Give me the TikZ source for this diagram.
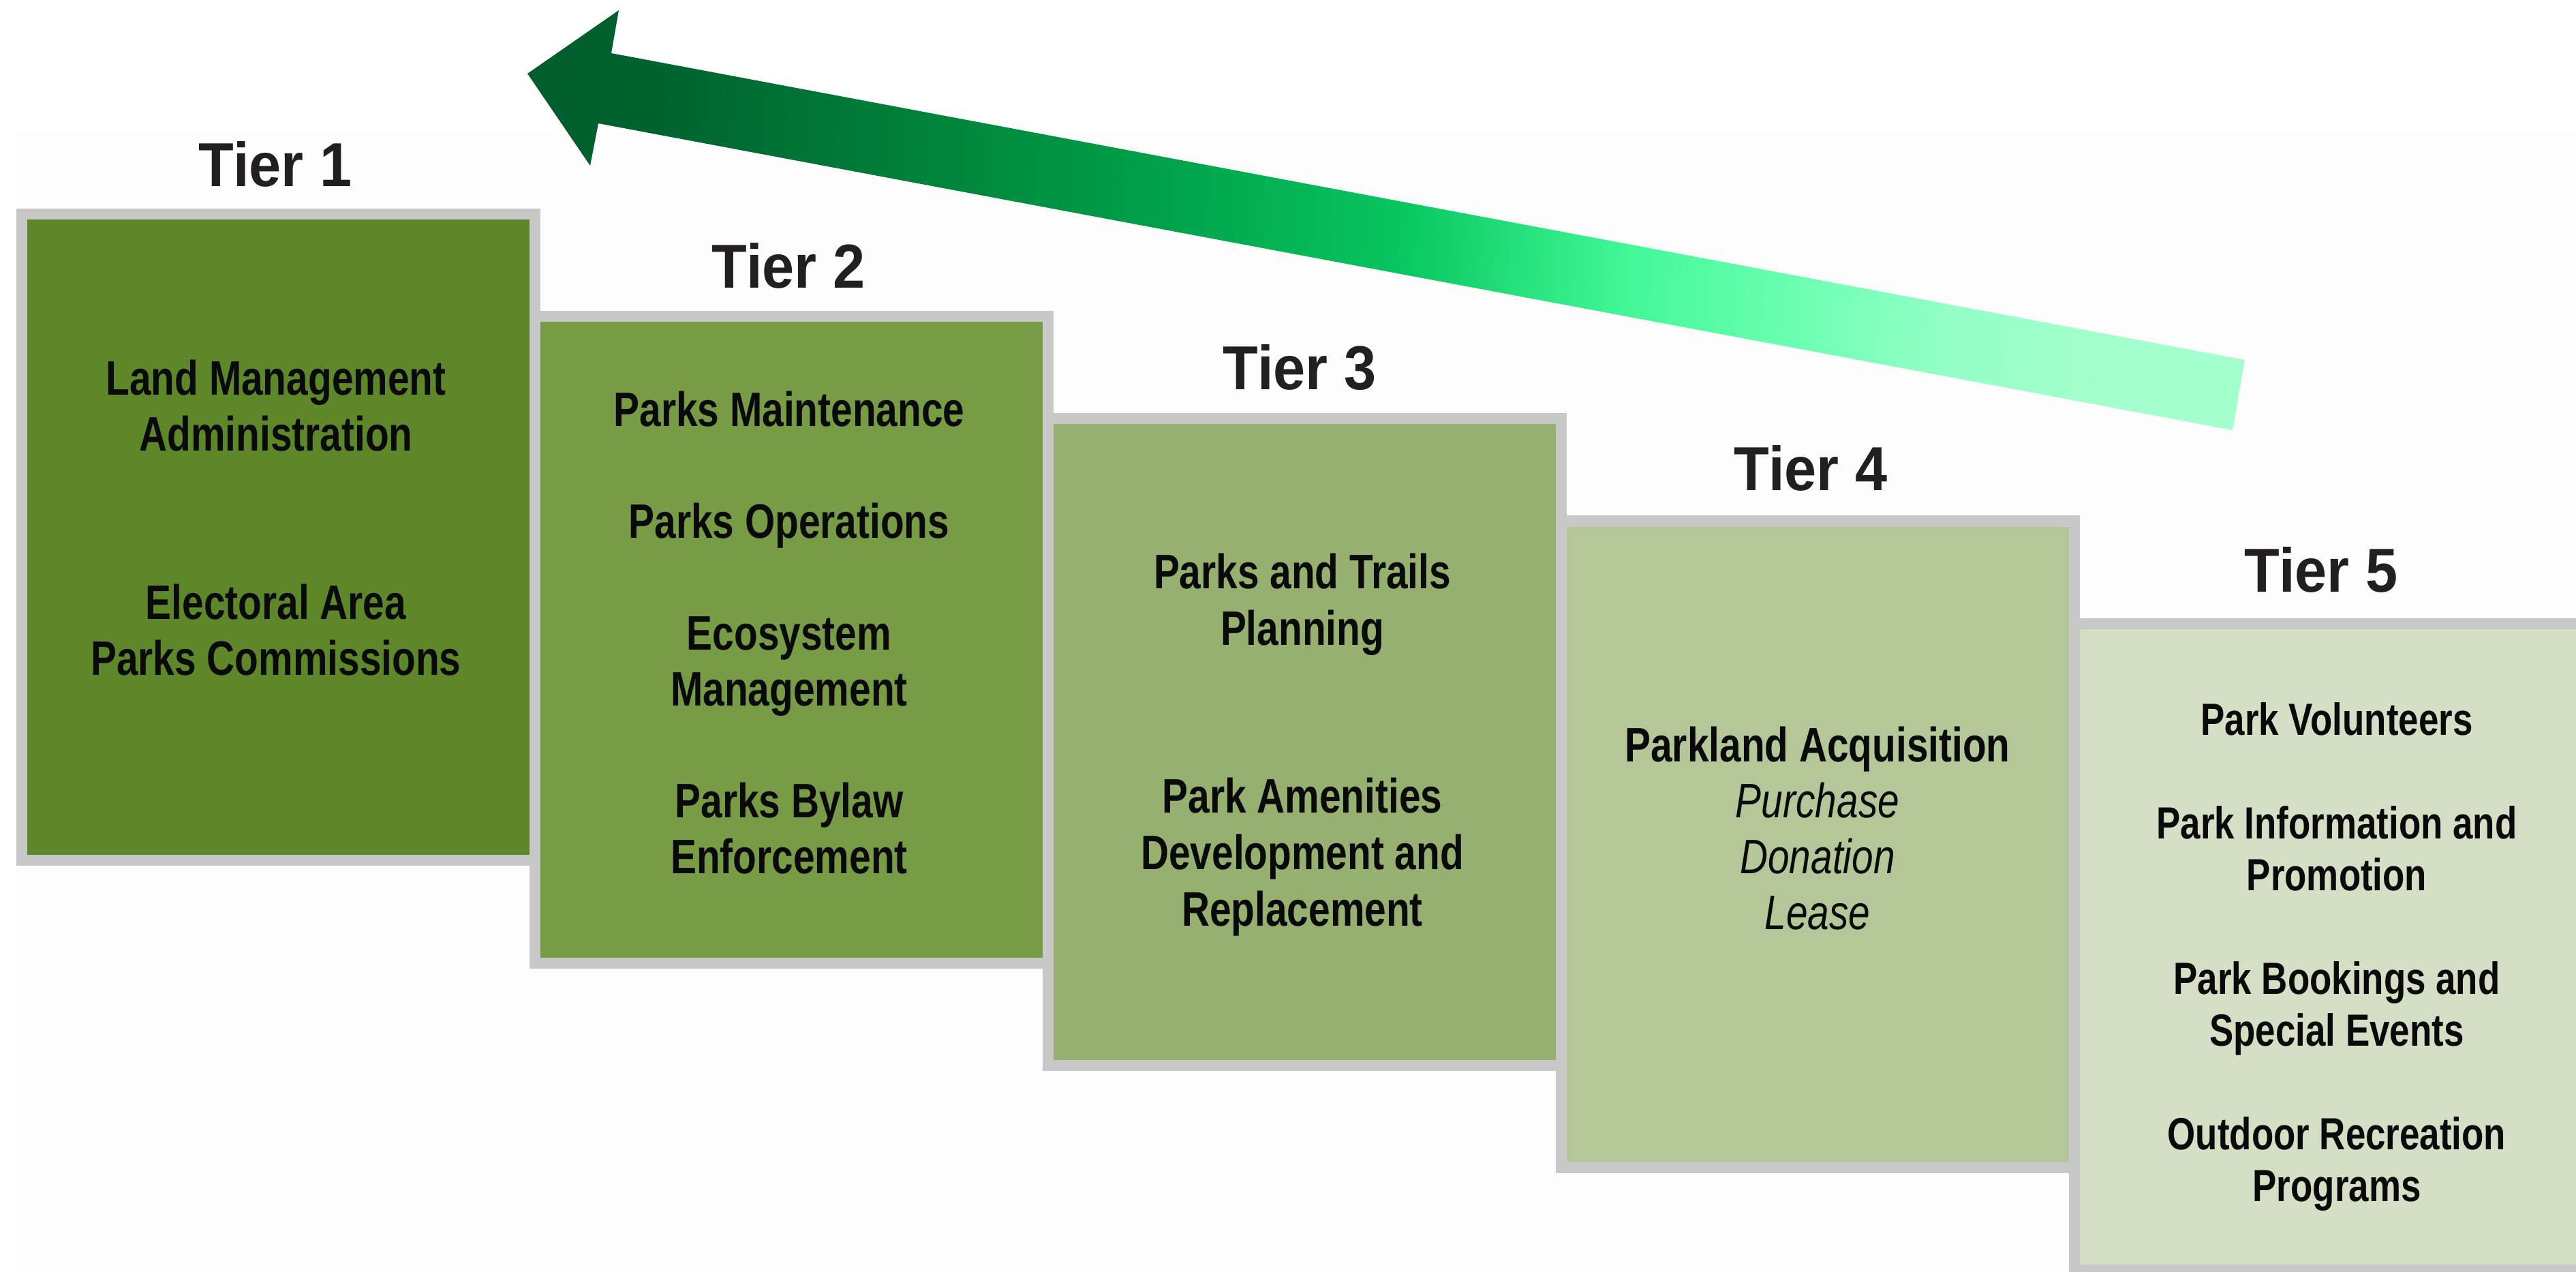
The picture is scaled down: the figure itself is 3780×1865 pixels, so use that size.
\documentclass[tikz,border=0pt]{standalone}
\usepackage{fontspec}
\setmainfont{Liberation Sans}[FakeStretch=0.8]
\newfontfamily\tierfont{Liberation Sans}[FakeStretch=0.93]

% tier fills, from dark to light
\definecolor{tierA}{HTML}{5E8729}
\definecolor{tierB}{HTML}{789B46}
\definecolor{tierC}{HTML}{96B06F}
\definecolor{tierD}{HTML}{B3C799}
\definecolor{tierE}{HTML}{D5DFC5}
\definecolor{frame}{HTML}{C8C8C8}
\definecolor{canvas}{HTML}{FDFDFD}
\definecolor{ink}{HTML}{0A0A0A}
\definecolor{labelink}{HTML}{231F20}

% arrow gradient, head (left) to tail (right)
\definecolor{grA}{HTML}{005E2C}
\definecolor{grB}{HTML}{006630}
\definecolor{grC}{HTML}{00823A}
\definecolor{grD}{HTML}{00A048}
\definecolor{grE}{HTML}{08C660}
\definecolor{grF}{HTML}{2EE884}
\definecolor{grG}{HTML}{44F898}
\definecolor{grH}{HTML}{6CFFB2}
\definecolor{grI}{HTML}{94FFC6}
\definecolor{grJ}{HTML}{A4FFCE}
\pgfdeclarehorizontalshading{growth}{100bp}{%
  color(0bp)=(grA); color(25bp)=(grA); color(29bp)=(grB); color(36bp)=(grC);
  color(43bp)=(grD); color(50.5bp)=(grE); color(55bp)=(grF); color(57.5bp)=(grG);
  color(62.5bp)=(grH); color(67bp)=(grI); color(72bp)=(grJ); color(100bp)=(grJ)}

\begin{document}
\begin{tikzpicture}[x=0.01cm, y=-0.01cm,
  tierbox/.style={draw=frame, line width=0.16cm, minimum width=7.53cm,
    minimum height=9.48cm, inner sep=0pt, outer sep=0pt},
  tierlabel/.style={anchor=base, inner sep=0pt, text=labelink,
    font=\tierfont\fontsize{25.9}{30}\selectfont\bfseries},
  entry/.style={anchor=base, inner sep=0pt, text=ink,
    font=\fontsize{20.2}{23.3}\selectfont\bfseries},
  smallentry/.style={entry, font=\fontsize{18.8}{21.6}\selectfont\bfseries},
  method/.style={entry, font=\fontsize{20.2}{23.3}\selectfont\itshape}]

\useasboundingbox (0,0) rectangle (3780,1865);
\clip (0,0) rectangle (3780,1865);
\fill[canvas] (25,194) rectangle (3780,1865);

% stepped tier boxes
\node[tierbox, fill=tierA] (box1) at (408.5,788) {};
\node[tierbox, fill=tierB] (box2) at (1161.5,938.25) {};
\node[tierbox, fill=tierC] (box3) at (1914.5,1088.5) {};
\node[tierbox, fill=tierD] (box4) at (2667.5,1238.75) {};
\node[tierbox, fill=tierE] (box5) at (3420.5,1389) {};

% rising arrow
\shade[shading=growth, shading angle=-2.6]
  (774,108) -- (908,15) -- (897,78) -- (3294,528) -- (3276,631)
  -- (878,181) -- (866,243) -- cycle;

% tier headings
\node[tierlabel] (tier1) at (404,273) {Tier 1};
\node[tierlabel] (tier2) at (1157,422) {Tier 2};
\node[tierlabel] (tier3) at (1907,571) {Tier 3};
\node[tierlabel] (tier4) at (2657,719) {Tier 4};
\node[tierlabel] (tier5) at (3406,868) {Tier 5};

% tier 1
\node[entry] (a1) at (405,579) {Land Management};
\node[entry] (a2) at (405,661) {Administration};
\node[entry] (a3) at (405,908) {Electoral Area};
\node[entry] (a4) at (405,990) {Parks Commissions};

% tier 2
\node[entry] (b1) at (1158,625) {Parks Maintenance};
\node[entry] (b2) at (1158,789) {Parks Operations};
\node[entry] (b3) at (1158,953) {Ecosystem};
\node[entry] (b4) at (1158,1035) {Management};
\node[entry] (b5) at (1158,1199) {Parks Bylaw};
\node[entry] (b6) at (1158,1281) {Enforcement};

% tier 3
\node[entry] (c1) at (1911,863) {Parks and Trails};
\node[entry] (c2) at (1911,946) {Planning};
\node[entry] (c3) at (1911,1192) {Park Amenities};
\node[entry] (c4) at (1911,1275) {Development and};
\node[entry] (c5) at (1911,1358) {Replacement};

% tier 4
\node[entry] (d1) at (2667,1117) {Parkland Acquisition};
\node[method] (d2) at (2667,1199) {Purchase};
\node[method] (d3) at (2667,1281) {Donation};
\node[method] (d4) at (2667,1363) {Lease};

% tier 5
\node[smallentry] (e1) at (3429,1078) {Park Volunteers};
\node[smallentry] (e2) at (3429,1230) {Park Information and};
\node[smallentry] (e3) at (3429,1306) {Promotion};
\node[smallentry] (e4) at (3429,1458) {Park Bookings and};
\node[smallentry] (e5) at (3429,1534) {Special Events};
\node[smallentry] (e6) at (3429,1686) {Outdoor Recreation};
\node[smallentry] (e7) at (3429,1762) {Programs};

\end{tikzpicture}
\end{document}
